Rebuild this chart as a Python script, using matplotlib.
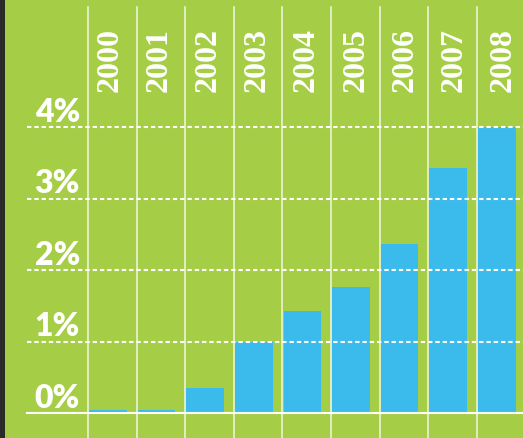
import matplotlib
matplotlib.use("Agg")
import matplotlib.pyplot as plt
from matplotlib.patches import Rectangle
import matplotlib.transforms as mtransforms

# Data
years = ["2000", "2001", "2002", "2003", "2004", "2005", "2006", "2007", "2008"]
shares = [0.04, 0.04, 0.35, 1.0, 1.43, 1.77, 2.37, 3.43, 4.0]
tick_values = [0, 1, 2, 3, 4]
tick_labels = ["0%", "1%", "2%", "3%", "4%"]

W, H = 523, 439
GREEN = "#A5CD45"
BLUE = "#3ABBEC"

fig = plt.figure(figsize=(W / 100, H / 100), dpi=100, facecolor=GREEN)
ax = fig.add_axes([0, 0, 1, 1])
ax.set_facecolor(GREEN)
for s in ax.spines.values():
    s.set_visible(False)
ax.set_xticks([])
ax.set_yticks([])

# pixel geometry of the plotting grid
x0_px, col_px = 88.0, 48.6
y0_px, unit_px = 414.3, 71.5
ax.set_xlim(-x0_px / col_px, (W - x0_px) / col_px)
ax.set_ylim(-(H - y0_px) / unit_px, y0_px / unit_px)

# bars, left-aligned in each column
n = len(years)
ax.bar([i + 1.2 / col_px for i in range(n)], shares, width=37.5 / col_px,
       align="edge", color=BLUE, zorder=2)

# dashed gridlines and solid baseline
x_start = 27 / W
for v in tick_values:
    if v == 0:
        ax.axhline(v, xmin=x_start, xmax=1, color="white", lw=1.5, zorder=4)
    else:
        ax.axhline(v, xmin=x_start, xmax=1, color="white", lw=1.5,
                   linestyle=(0, (2.1, 1.4)), zorder=4)

# column separators
for i in range(n):
    ax.axvline(i, ymin=0, ymax=1 - 8 / H, color="white", lw=1.1,
               alpha=0.85, zorder=3)

# percentage labels
trans_y = mtransforms.blended_transform_factory(ax.transAxes, ax.transData)
for v, lab in zip(tick_values, tick_labels):
    ax.text(80 / W, v + 6.5 / unit_px, lab, transform=trans_y,
            ha="right", va="baseline", color="white",
            fontsize=23, fontweight="heavy", family=["Lato", "DejaVu Sans"],
            zorder=5)

# year labels along the top
trans_x = mtransforms.blended_transform_factory(ax.transData, ax.transAxes)
for i, y in enumerate(years):
    ax.text(i + 0.45 + 0.012 * i, 1 - 60.5 / H, y, transform=trans_x,
            rotation=90, ha="center", va="center", color="white",
            fontsize=23, fontweight="bold", family="Liberation Serif",
            zorder=5)

# dark edge on the far left
fig.patches.append(Rectangle((0, 0), 4.5 / W, 1, transform=fig.transFigure,
                             facecolor="#2a2b27", edgecolor="none", zorder=10))

fig.savefig("out.png", dpi=100, facecolor=GREEN)
